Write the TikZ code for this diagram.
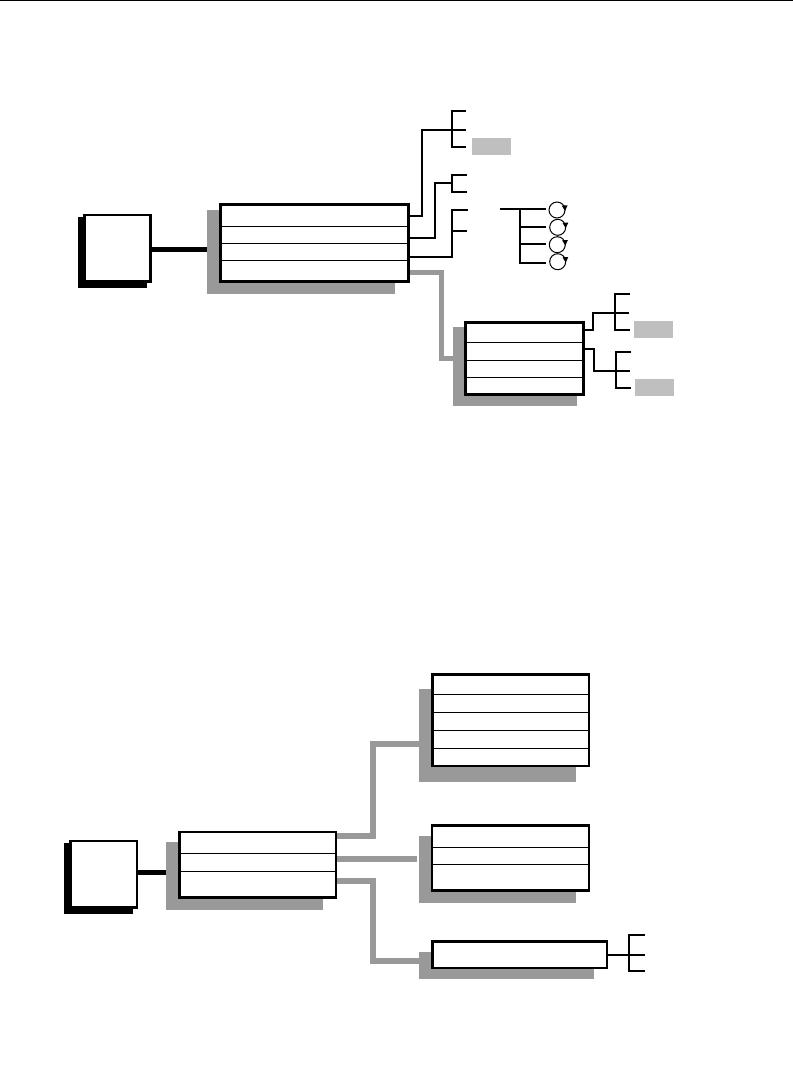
\documentclass[tikz,border=0pt]{standalone}
\usetikzlibrary{calc}
\tikzset{
  x=1pt,y=-1pt,
  recbox/.style={draw=black,line width=2.4pt,fill=white,inner sep=0pt,outer sep=1.2pt},
  inkshade/.style={fill=black,draw=none,inner sep=0pt,outer sep=0pt},
  greyshade/.style={fill=shadegrey,draw=none,inner sep=0pt,outer sep=0pt},
  paleblock/.style={fill=paleblockc,draw=none,inner sep=0pt,outer sep=0pt},
  divider/.style={draw=black,line width=1pt},
  thinwire/.style={draw=black,line width=2.3pt},
  fatwire/.style={draw=black,line width=5.3pt},
  greywire/.style={draw=shadegrey,line width=5pt},
  loopmark/.style={circle,draw=black,line width=1pt,fill=white,minimum size=16pt,inner sep=0pt},
}
\definecolor{shadegrey}{HTML}{999999}
\definecolor{paleblockc}{HTML}{BFBFBF}
% name, style, x1, y1, x2, y2
\newcommand{\rectnode}[6]{%
  \node[#2,minimum width={(#5-(#3))*1pt},minimum height={(#6-(#4))*1pt}]
    (#1) at ({(#3+#5)/2},{(#4+#6)/2}) {};}
% stroked box given by the outer edges of its border
\newcommand{\boxnode}[5]{\rectnode{#1}{recbox}{#2+1}{#3+1}{#4-1}{#5-1}}
\begin{document}
\begin{tikzpicture}
\useasboundingbox (0,0) rectangle (793,1088);
\coordinate (topL) at (0,0.7);
\coordinate (topR) at (793,0.7);
\draw[black,line width=1.5pt] (topL) -- (topR);

% ---------- upper diagram: shadows
\rectnode{Ashade}{inkshade}{78}{217}{147}{288}
\rectnode{Bshade}{greyshade}{207}{210}{395}{294}
\rectnode{Cshade}{greyshade}{453}{327}{577}{406}

% connectors of upper diagram
\coordinate (ab) at (0,249.3);
\coordinate (b1) at (422,130);
\coordinate (b1a) at (466,111);
\coordinate (b1b) at (466,130);
\coordinate (b1c) at (466,147);
\coordinate (b1s) at (452,130);
\coordinate (b2) at (435,183);
\coordinate (b2s) at (452,183);
\coordinate (b2a) at (467,175);
\coordinate (b2b) at (467,191.7);
\coordinate (b3) at (451.7,210);
\coordinate (b3a) at (468,210);
\coordinate (b3b) at (467,231);
\coordinate (bc) at (441.3,358.3);

\boxnode{A}{83.5}{214}{151.5}{282.5}
\boxnode{B}{219.5}{203.5}{409.5}{282.5}
\boxnode{C}{464.3}{321.5}{584.5}{395.5}

\draw[fatwire] (A.east |- ab) -- (Bshade.west |- ab);
\draw[thinwire] (B.east |- 0,216) -| (b1) -- (b1b);
\draw[thinwire] (b1a) -| (b1s |- b1c) -- (b1c);
\draw[thinwire] (B.east |- 0,237.7) -| (b2) -- (b2s);
\draw[thinwire] (b2a) -| (b2s |- b2b) -- (b2b);
\draw[thinwire] (B.east |- 0,256.7) -| (b3) -- (b3a);
\draw[thinwire] (b3 |- b3b) -- (b3b);
\draw[greywire] (B.east |- 0,272) -| (bc) -- (Cshade.west |- bc);

% loop tree
\coordinate (t0) at (500,208.7);
\coordinate (ts) at (519.7,208.7);
\node[loopmark] (L1) at (557,210) {};
\node[loopmark] (L2) at (557.7,227.3) {};
\node[loopmark] (L3) at (557.3,244.7) {};
\node[loopmark] (L4) at (557.7,261.7) {};
\draw[thinwire] (t0) -- (545.7,208.7);
\draw[thinwire] (ts) |- (545.7,262.7);
\draw[thinwire] (ts |- 0,227) -- (545.7,227);
\draw[thinwire] (ts |- 0,244) -- (545.7,244);
\foreach \n in {L1,L2,L3,L4}
  \fill[black] ($(\n.center)+(4.8,-4.4)$) -- ++(5.8,-.3) -- ++(-2.6,5.6) -- cycle;

\rectnode{P1}{paleblock}{472}{138}{511}{155}
\rectnode{P2}{paleblock}{634}{321}{673}{338}
\rectnode{P3}{paleblock}{635}{379}{674}{396}

% box rows
\draw[divider] (B.west |- 0,226) -- (B.east |- 0,226);
\draw[divider] (B.west |- 0,243.3) -- (B.east |- 0,243.3);
\draw[divider] (B.west |- 0,260.3) -- (B.east |- 0,260.3);
\draw[divider] (C.west |- 0,342.3) -- (C.east |- 0,342.3);
\draw[divider] (C.west |- 0,360) -- (C.east |- 0,360);
\draw[divider] (C.west |- 0,377.7) -- (C.east |- 0,377.7);

% right of C
\coordinate (c1m) at (593.3,313.3);
\coordinate (c1s) at (615,313.3);
\coordinate (c1a) at (630,293.7);
\coordinate (c1b) at (629,313.3);
\coordinate (c1c) at (630,330);
\coordinate (c2m) at (594.3,371.3);
\coordinate (c2s) at (616.3,371.3);
\coordinate (c2a) at (630.7,352);
\coordinate (c2b) at (630,371.3);
\coordinate (c2c) at (630.7,387.7);
\draw[thinwire] (C.east |- 0,330.3) -| (c1m) -- (c1b);
\draw[thinwire] (c1a) -| (c1s |- c1c) -- (c1c);
\draw[thinwire] (C.east |- 0,349) -| (c2m) -- (c2b);
\draw[thinwire] (c2a) -| (c2s |- c2c) -- (c2c);

% ---------- lower diagram: shadows
\rectnode{Dshade}{inkshade}{64}{843}{133}{914}
\rectnode{Eshade}{greyshade}{166}{842}{323}{910}
\rectnode{Fshade}{greyshade}{419}{689}{576}{781.7}
\rectnode{Gshade}{greyshade}{419}{836}{576}{902.7}
\rectnode{Hshade}{greyshade}{419}{952}{594}{979}

\boxnode{D}{69.5}{840}{138}{908.5}
\boxnode{E}{178.3}{831}{337}{898.5}
\boxnode{F}{431.3}{673.3}{590}{767}
\boxnode{G}{431}{824.3}{589.7}{891.5}
\boxnode{H}{431.3}{940.3}{608}{968.7}

\coordinate (de) at (0,872.3);
\coordinate (ef) at (373,743.5);
\coordinate (eg) at (417,859);
\coordinate (eh) at (373,961);
\coordinate (hs) at (629,954.7);
\coordinate (ha) at (645,934.7);
\coordinate (hb) at (645,954.7);
\coordinate (hc) at (645,971);

\draw[fatwire] (D.east |- de) -- (Eshade.west |- de);
\draw[greywire,line width=6pt] (E.east |- 0,836) -| (ef) -- (Fshade.west |- ef);
\draw[greywire,line width=6pt] (E.east |- eg) -- (eg);
\draw[greywire,line width=6pt] (E.east |- 0,880.7) -| (eh) -- (Hshade.west |- eh);
\draw[thinwire] (H.east |- hs) -- (hb);
\draw[thinwire] (ha) -| (hs |- hc) -- (hc);

\draw[divider] (E.west |- 0,853.7) -- (E.east |- 0,853.7);
\draw[divider] (E.west |- 0,871.3) -- (E.east |- 0,871.3);
\draw[divider] (F.west |- 0,694) -- (F.east |- 0,694);
\draw[divider] (F.west |- 0,712) -- (F.east |- 0,712);
\draw[divider] (F.west |- 0,730) -- (F.east |- 0,730);
\draw[divider] (F.west |- 0,748.3) -- (F.east |- 0,748.3);
\draw[divider] (G.west |- 0,847) -- (G.east |- 0,847);
\draw[divider] (G.west |- 0,864.7) -- (G.east |- 0,864.7);
\end{tikzpicture}
\end{document}
